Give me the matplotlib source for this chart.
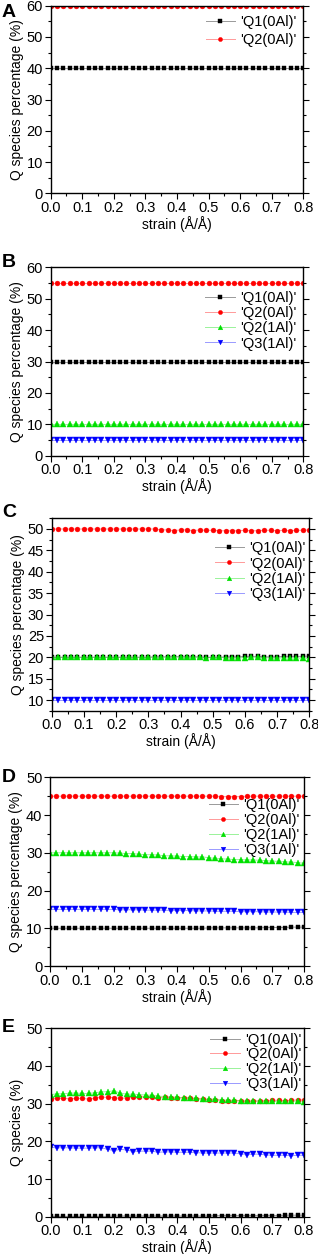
import matplotlib
matplotlib.use('Agg')
import matplotlib.pyplot as plt
from matplotlib.ticker import MultipleLocator
import numpy as np

plt.rcParams['font.family'] = ['Liberation Sans', 'DejaVu Sans']

strain = np.round(np.arange(41) * 0.02, 2)

# panel A
a_q1_0al = [40.0] * 41
a_q2_0al = [60.0] * 41

# panel B
b_q1_0al = [30.0] * 41
b_q2_0al = [55.0] * 41
b_q2_1al = [10.0] * 41
b_q3_1al = [5.0] * 41

# panel C
c_q1_0al = [20.0, 20.0, 20.0, 20.0, 20.0, 20.0, 20.0, 20.0, 20.0, 20.0,
            20.0, 20.0, 20.0, 20.0, 20.0, 20.0, 20.1, 20.1, 20.1, 20.1,
            20.1, 20.1, 20.1, 20.1, 20.0, 20.0, 20.0, 20.1, 20.1, 20.1,
            20.2, 20.2, 20.2, 20.1, 20.1, 20.1, 20.2, 20.2, 20.2, 20.2, 20.3]
c_q2_0al = [50.0, 50.0, 50.0, 50.0, 50.0, 50.0, 50.0, 50.0, 50.0, 50.0,
            50.0, 50.0, 50.0, 50.0, 50.0, 50.0, 50.0, 49.8, 49.8, 49.6,
            49.8, 49.8, 49.6, 49.8, 49.7, 49.7, 49.6, 49.6, 49.6, 49.6,
            49.7, 49.6, 49.6, 49.7, 49.7, 49.6, 49.7, 49.6, 49.7, 49.7, 49.8]
c_q2_1al = [20.0, 20.0, 20.0, 20.0, 20.0, 20.0, 20.0, 20.0, 20.0, 20.0,
            20.0, 20.0, 20.0, 20.0, 20.0, 20.0, 20.0, 20.0, 20.0, 20.1,
            20.1, 20.0, 20.0, 20.0, 19.9, 20.0, 20.0, 19.9, 19.9, 19.9,
            19.9, 20.0, 20.0, 19.9, 19.9, 19.9, 19.8, 19.8, 19.8, 19.8, 19.7]
c_q3_1al = [10.0] * 41

# panel D
d_q1_0al = [10.0, 10.0, 10.0, 10.0, 10.0, 10.0, 10.0, 10.0, 10.0, 10.0,
            10.0, 10.0, 10.0, 10.0, 10.0, 10.0, 10.0, 10.0, 10.0, 10.0,
            10.0, 10.0, 10.0, 10.0, 10.0, 10.1, 10.1, 10.1, 10.1, 10.1,
            10.1, 10.1, 10.1, 10.1, 10.2, 10.2, 10.2, 10.2, 10.3, 10.3, 10.3]
d_q2_0al = [45.0, 45.0, 45.0, 45.0, 45.0, 45.0, 45.0, 45.0, 45.0, 45.0,
            45.0, 45.0, 45.0, 45.0, 45.0, 45.0, 45.0, 45.0, 45.0, 45.0,
            45.0, 45.0, 45.0, 45.0, 45.0, 45.0, 45.0, 44.9, 44.9, 44.9,
            44.9, 45.0, 45.0, 45.0, 45.0, 45.0, 45.0, 45.0, 45.0, 45.0, 45.0]
d_q2_1al = [30.0, 30.0, 30.0, 30.0, 30.0, 30.0, 30.0, 30.0, 30.0, 30.0,
            30.0, 29.9, 29.8, 29.8, 29.6, 29.5, 29.5, 29.4, 29.2, 29.2,
            29.1, 29.0, 29.0, 28.9, 28.9, 28.7, 28.5, 28.4, 28.3, 28.2,
            28.2, 28.1, 28.1, 28.0, 27.9, 27.8, 27.7, 27.6, 27.5, 27.4, 27.2]
d_q3_1al = [15.0, 15.0, 15.0, 15.0, 15.0, 15.0, 15.0, 15.0, 15.0, 15.0,
            15.0, 14.9, 14.9, 14.9, 14.9, 14.8, 14.8, 14.8, 14.8, 14.7,
            14.7, 14.7, 14.7, 14.6, 14.6, 14.6, 14.5, 14.5, 14.5, 14.5,
            14.4, 14.4, 14.4, 14.4, 14.3, 14.3, 14.3, 14.3, 14.2, 14.2, 14.2]

# panel E
e_q1_0al = [0.1, 0.1, 0.1, 0.1, 0.1, 0.1, 0.1, 0.1, 0.1, 0.1,
            0.2, 0.2, 0.2, 0.2, 0.2, 0.2, 0.2, 0.2, 0.2, 0.2,
            0.2, 0.2, 0.2, 0.2, 0.2, 0.2, 0.3, 0.3, 0.3, 0.3,
            0.3, 0.3, 0.3, 0.3, 0.3, 0.3, 0.3, 0.4, 0.4, 0.4, 0.4]
e_q2_0al = [31.3, 31.4, 31.4, 31.3, 31.4, 31.4, 31.2, 31.5, 31.7, 31.7,
            31.6, 31.4, 31.5, 31.8, 31.8, 31.9, 31.7, 31.6, 31.7, 31.6,
            31.5, 31.5, 31.4, 31.3, 31.2, 31.1, 31.0, 30.8, 30.6, 30.8,
            30.7, 30.6, 30.7, 30.7, 30.8, 30.9, 30.9, 30.8, 30.9, 31.0, 31.0]
e_q2_1al = [32.4, 32.6, 32.6, 32.8, 32.8, 32.7, 32.7, 32.9, 33.1, 33.2,
            33.4, 32.8, 32.5, 32.5, 32.4, 32.3, 32.2, 32.0, 31.9, 31.8,
            31.7, 31.6, 31.6, 31.4, 31.2, 31.2, 31.2, 31.0, 30.9, 30.9,
            30.8, 30.7, 30.7, 30.7, 30.6, 30.6, 30.6, 30.6, 30.7, 30.6, 30.4]
e_q3_1al = [18.4, 18.3, 18.3, 18.3, 18.2, 18.2, 18.2, 18.3, 18.3, 17.9,
            17.5, 17.9, 17.7, 17.3, 17.4, 17.4, 17.4, 17.1, 17.2, 17.2,
            17.1, 17.1, 17.1, 17.0, 16.9, 16.9, 16.9, 16.9, 16.9, 16.9,
            16.7, 16.5, 16.6, 16.6, 16.4, 16.3, 16.3, 16.3, 16.2, 16.3, 16.3]

labels = ["'Q1(0Al)'", "'Q2(0Al)'", "'Q2(1Al)'", "'Q3(1Al)'"]
colors = ['#000000', '#ff0000', '#00e000', '#0000ff']
markers = ['s', 'o', '^', 'v']
msizes = [2.8, 3.5, 3.9, 3.9]

panels = [
    ('A', [a_q1_0al, a_q2_0al], (0, 60), 10, 5, 'Q species percentage (%)'),
    ('B', [b_q1_0al, b_q2_0al, b_q2_1al, b_q3_1al], (0, 60), 10, 5, 'Q species percentage (%)'),
    ('C', [c_q1_0al, c_q2_0al, c_q2_1al, c_q3_1al], (7.5, 52.5), 5, 2.5, 'Q species percentage (%)'),
    ('D', [d_q1_0al, d_q2_0al, d_q2_1al, d_q3_1al], (0, 50), 10, 5, 'Q species percentage (%)'),
    ('E', [e_q1_0al, e_q2_0al, e_q2_1al, e_q3_1al], (0, 50), 10, 5, 'Q species (%)'),
]

# axes boxes in pixels: left, right, top, bottom
W, H = 318, 1254
boxes = [(50.7, 303.3, 5.7, 193.3),
         (50.7, 303.3, 267.3, 455.7),
         (51.7, 309.3, 518.3, 710.7),
         (50.0, 304.0, 777.3, 966.0),
         (50.7, 304.0, 1028.3, 1216.7)]
legend_anchor = [(0.975, 0.950), (0.974, 0.874), (0.987, 0.880), (0.984, 0.892), (0.991, 0.977)]
legend_spacing = [0.25, 0.08, 0.08, 0.08, 0.05]
letter_y = [4, 254, 504, 769, 1019]

fig = plt.figure(figsize=(W / 100, H / 100), dpi=100)

for i, (letter, series, ylim, major, minor, ylabel) in enumerate(panels):
    l, r, t, b = boxes[i]
    ax = fig.add_axes([l / W, 1 - b / H, (r - l) / W, (b - t) / H])
    for j, y in enumerate(series):
        c = matplotlib.colors.to_rgba(colors[j])
        ax.plot(strain, y, color=(c[0], c[1], c[2], 0.4), lw=0.7,
                marker=markers[j], ms=msizes[j], mfc=colors[j], mec=colors[j],
                mew=0.3, label=labels[j])
    ax.set_xlim(0, 0.8)
    ax.set_ylim(*ylim)
    ax.xaxis.set_major_locator(MultipleLocator(0.1))
    ax.xaxis.set_minor_locator(MultipleLocator(0.05))
    ax.yaxis.set_major_locator(MultipleLocator(major))
    ax.yaxis.set_minor_locator(MultipleLocator(minor))
    ax.tick_params(which='both', direction='out', labelsize=10.5, width=0.8)
    ax.tick_params(which='major', length=4, pad=1.5)
    ax.tick_params(which='minor', length=2)
    ax.tick_params(axis='y', which='both', right=True, labelright=False)
    for sp in ax.spines.values():
        sp.set_linewidth(1.0)
    ax.set_xlabel('strain (Å/Å)', fontsize=10, labelpad=0.8)
    ax.set_ylabel(ylabel, fontsize=10, labelpad=2)
    ax.legend(loc='upper right', bbox_to_anchor=legend_anchor[i], frameon=False,
              fontsize=10.5, handlelength=2.0, handletextpad=0.4,
              labelspacing=legend_spacing[i],
              markerscale=0.85, borderpad=0, borderaxespad=0)
    fig.text(2 / W, 1 - letter_y[i] / H, letter, fontsize=14, fontweight='bold',
             va='top', ha='left')

fig.savefig('out.png', dpi=100)
